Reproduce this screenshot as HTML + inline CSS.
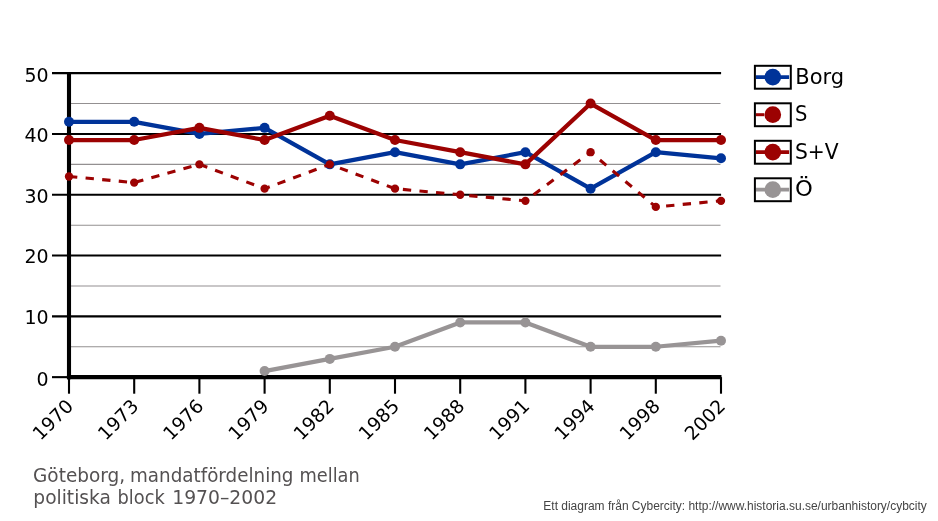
<!DOCTYPE html>
<html lang="sv">
<head>
<meta charset="utf-8">
<title>Göteborg, mandatfördelning mellan politiska block 1970–2002</title>
<style>
html,body{margin:0;padding:0;background:#fff;}
body{width:938px;height:521px;overflow:hidden;position:relative;}
svg{display:block;position:absolute;left:0;top:0;}
.ax{font-family:'DejaVu Sans','Liberation Sans',sans-serif;font-size:19px;fill:#000;}
.lg{font-family:'DejaVu Sans','Liberation Sans',sans-serif;font-size:20.8px;fill:#000;}
.cap{font-family:'DejaVu Sans','Liberation Sans',sans-serif;font-size:18.75px;fill:#545152;}
.ft{font-family:"Liberation Sans",Arial,sans-serif;font-size:12px;fill:#444;}
</style>
</head>
<body>
<svg width="938" height="521" viewBox="0 0 938 521">
<rect x="0" y="0" width="938" height="521" fill="#ffffff"/>
<g stroke="#939091" stroke-width="1.05" fill="none">
<line x1="69.00" y1="346.75" x2="720.50" y2="346.75"/>
<line x1="69.00" y1="285.95" x2="720.50" y2="285.95"/>
<line x1="69.00" y1="225.15" x2="720.50" y2="225.15"/>
<line x1="69.00" y1="164.35" x2="720.50" y2="164.35"/>
<line x1="69.00" y1="103.55" x2="720.50" y2="103.55"/>
</g>
<g stroke="#000" stroke-width="2.1" fill="none">
<line x1="52.00" y1="316.35" x2="721.10" y2="316.35"/>
<line x1="52.00" y1="255.55" x2="721.10" y2="255.55"/>
<line x1="52.00" y1="194.75" x2="721.10" y2="194.75"/>
<line x1="52.00" y1="133.95" x2="721.10" y2="133.95"/>
<line x1="52.00" y1="73.15" x2="721.10" y2="73.15"/>
<line x1="52" y1="377.15" x2="69.00" y2="377.15"/>
<line x1="69.00" y1="377.15" x2="69.00" y2="393.70"/>
<line x1="134.20" y1="377.15" x2="134.20" y2="393.70"/>
<line x1="199.40" y1="377.15" x2="199.40" y2="393.70"/>
<line x1="264.60" y1="377.15" x2="264.60" y2="393.70"/>
<line x1="329.80" y1="377.15" x2="329.80" y2="393.70"/>
<line x1="395.00" y1="377.15" x2="395.00" y2="393.70"/>
<line x1="460.20" y1="377.15" x2="460.20" y2="393.70"/>
<line x1="525.40" y1="377.15" x2="525.40" y2="393.70"/>
<line x1="590.60" y1="377.15" x2="590.60" y2="393.70"/>
<line x1="655.80" y1="377.15" x2="655.80" y2="393.70"/>
<line x1="721.00" y1="377.15" x2="721.00" y2="393.70"/>
</g>
<g stroke="#000" stroke-width="4.1" fill="none">
<line x1="69.00" y1="72.15" x2="69.00" y2="379.20"/>
<line x1="66.95" y1="377.15" x2="721.50" y2="377.15"/>
</g>
<g class="ax" text-anchor="end">
<text x="48.6" y="386.00">0</text>
<text x="48.6" y="324.10">10</text>
<text x="48.6" y="263.20">20</text>
<text x="48.6" y="203.30">30</text>
<text x="48.6" y="141.95">40</text>
<text x="48.6" y="82.20">50</text>
</g>
<g class="ax" text-anchor="end" style="font-size:18.8px">
<text transform="translate(74.40,407.40) rotate(-45)" x="0" y="0">1970</text>
<text transform="translate(139.60,407.40) rotate(-45)" x="0" y="0">1973</text>
<text transform="translate(204.80,407.40) rotate(-45)" x="0" y="0">1976</text>
<text transform="translate(270.00,407.40) rotate(-45)" x="0" y="0">1979</text>
<text transform="translate(335.20,407.40) rotate(-45)" x="0" y="0">1982</text>
<text transform="translate(400.40,407.40) rotate(-45)" x="0" y="0">1985</text>
<text transform="translate(465.60,407.40) rotate(-45)" x="0" y="0">1988</text>
<text transform="translate(530.80,407.40) rotate(-45)" x="0" y="0">1991</text>
<text transform="translate(596.00,407.40) rotate(-45)" x="0" y="0">1994</text>
<text transform="translate(661.20,407.40) rotate(-45)" x="0" y="0">1998</text>
<text transform="translate(726.40,407.40) rotate(-45)" x="0" y="0">2002</text>
</g>
<polyline points="69.00,121.79 134.20,121.79 199.40,133.95 264.60,127.87 329.80,164.35 395.00,152.19 460.20,164.35 525.40,152.19 590.60,188.67 655.80,152.19 721.00,158.27" fill="none" stroke="#003399" stroke-width="4.25" stroke-linejoin="round"/>
<g fill="#003399">
<circle cx="69.00" cy="121.79" r="5.00"/>
<circle cx="134.20" cy="121.79" r="5.00"/>
<circle cx="199.40" cy="133.95" r="5.00"/>
<circle cx="264.60" cy="127.87" r="5.00"/>
<circle cx="329.80" cy="164.35" r="5.00"/>
<circle cx="395.00" cy="152.19" r="5.00"/>
<circle cx="460.20" cy="164.35" r="5.00"/>
<circle cx="525.40" cy="152.19" r="5.00"/>
<circle cx="590.60" cy="188.67" r="5.00"/>
<circle cx="655.80" cy="152.19" r="5.00"/>
<circle cx="721.00" cy="158.27" r="5.00"/>
</g>
<polyline points="69.00,176.51 134.20,182.59 199.40,164.35 264.60,188.67 329.80,164.35 395.00,188.67 460.20,194.75 525.40,200.83 590.60,152.19 655.80,206.91 721.00,200.83" fill="none" stroke="#9c0202" stroke-width="3.10" stroke-linejoin="round" stroke-dasharray="8.33 8.33"/>
<g fill="#9c0202">
<circle cx="69.00" cy="176.51" r="4.17"/>
<circle cx="134.20" cy="182.59" r="4.17"/>
<circle cx="199.40" cy="164.35" r="4.17"/>
<circle cx="264.60" cy="188.67" r="4.17"/>
<circle cx="329.80" cy="164.35" r="4.17"/>
<circle cx="395.00" cy="188.67" r="4.17"/>
<circle cx="460.20" cy="194.75" r="4.17"/>
<circle cx="525.40" cy="200.83" r="4.17"/>
<circle cx="590.60" cy="152.19" r="4.17"/>
<circle cx="655.80" cy="206.91" r="4.17"/>
<circle cx="721.00" cy="200.83" r="4.17"/>
</g>
<polyline points="69.00,140.03 134.20,140.03 199.40,127.87 264.60,140.03 329.80,115.71 395.00,140.03 460.20,152.19 525.40,164.35 590.60,103.55 655.80,140.03 721.00,140.03" fill="none" stroke="#9c0202" stroke-width="4.25" stroke-linejoin="round"/>
<g fill="#9c0202">
<circle cx="69.00" cy="140.03" r="5.00"/>
<circle cx="134.20" cy="140.03" r="5.00"/>
<circle cx="199.40" cy="127.87" r="5.00"/>
<circle cx="264.60" cy="140.03" r="5.00"/>
<circle cx="329.80" cy="115.71" r="5.00"/>
<circle cx="395.00" cy="140.03" r="5.00"/>
<circle cx="460.20" cy="152.19" r="5.00"/>
<circle cx="525.40" cy="164.35" r="5.00"/>
<circle cx="590.60" cy="103.55" r="5.00"/>
<circle cx="655.80" cy="140.03" r="5.00"/>
<circle cx="721.00" cy="140.03" r="5.00"/>
</g>
<polyline points="264.60,371.07 329.80,358.91 395.00,346.75 460.20,322.43 525.40,322.43 590.60,346.75 655.80,346.75 721.00,340.67" fill="none" stroke="#989495" stroke-width="4.25" stroke-linejoin="round"/>
<g fill="#989495">
<circle cx="264.60" cy="371.07" r="5.00"/>
<circle cx="329.80" cy="358.91" r="5.00"/>
<circle cx="395.00" cy="346.75" r="5.00"/>
<circle cx="460.20" cy="322.43" r="5.00"/>
<circle cx="525.40" cy="322.43" r="5.00"/>
<circle cx="590.60" cy="346.75" r="5.00"/>
<circle cx="655.80" cy="346.75" r="5.00"/>
<circle cx="721.00" cy="340.67" r="5.00"/>
</g>
<line x1="755.9" y1="77.20" x2="789.1" y2="77.20" stroke="#003399" stroke-width="3.75"/>
<circle cx="772.8" cy="77.20" r="8.33" fill="#003399"/>
<rect x="754.9" y="65.80" width="35.9" height="22.9" fill="none" stroke="#000" stroke-width="2"/>
<text class="lg" x="795.25" y="83.50" textLength="48.84" lengthAdjust="spacingAndGlyphs">Borg</text>
<line x1="755.9" y1="114.70" x2="770.0" y2="114.70" stroke="#9c0202" stroke-width="3.00" stroke-dasharray="8.33 8.33"/>
<circle cx="772.8" cy="114.70" r="8.33" fill="#9c0202"/>
<rect x="754.9" y="103.30" width="35.9" height="22.9" fill="none" stroke="#000" stroke-width="2"/>
<text class="lg" x="795.02" y="121.00" textLength="12.37" lengthAdjust="spacingAndGlyphs">S</text>
<line x1="755.9" y1="152.20" x2="789.1" y2="152.20" stroke="#9c0202" stroke-width="3.75"/>
<circle cx="772.8" cy="152.20" r="8.33" fill="#9c0202"/>
<rect x="754.9" y="140.80" width="35.9" height="22.9" fill="none" stroke="#000" stroke-width="2"/>
<text class="lg" x="794.96" y="158.50" textLength="43.70" lengthAdjust="spacingAndGlyphs">S+V</text>
<line x1="755.9" y1="189.70" x2="789.1" y2="189.70" stroke="#989495" stroke-width="3.75"/>
<circle cx="772.8" cy="189.70" r="8.33" fill="#989495"/>
<rect x="754.9" y="178.30" width="35.9" height="22.9" fill="none" stroke="#000" stroke-width="2"/>
<text class="lg" x="795.03" y="196.00" textLength="17.85" lengthAdjust="spacingAndGlyphs">Ö</text>
<text class="cap" y="481.9"><tspan x="33.07" textLength="92.03" lengthAdjust="spacingAndGlyphs">Göteborg,</tspan> <tspan x="129.99" textLength="163.47" lengthAdjust="spacingAndGlyphs">mandatfördelning</tspan> <tspan x="299.48" textLength="60.33" lengthAdjust="spacingAndGlyphs">mellan</tspan></text>
<text class="cap" y="504.1"><tspan x="33.32" textLength="77.57" lengthAdjust="spacingAndGlyphs">politiska</tspan> <tspan x="117.48" textLength="47.27" lengthAdjust="spacingAndGlyphs">block</tspan> <tspan x="172.24" textLength="104.84" lengthAdjust="spacingAndGlyphs">1970–2002</tspan></text>
<text class="ft" x="543.32" y="510.10" textLength="383.50" lengthAdjust="spacingAndGlyphs">Ett diagram från Cybercity: http://www.historia.su.se/urbanhistory/cybcity</text>
</svg>
</body>
</html>
